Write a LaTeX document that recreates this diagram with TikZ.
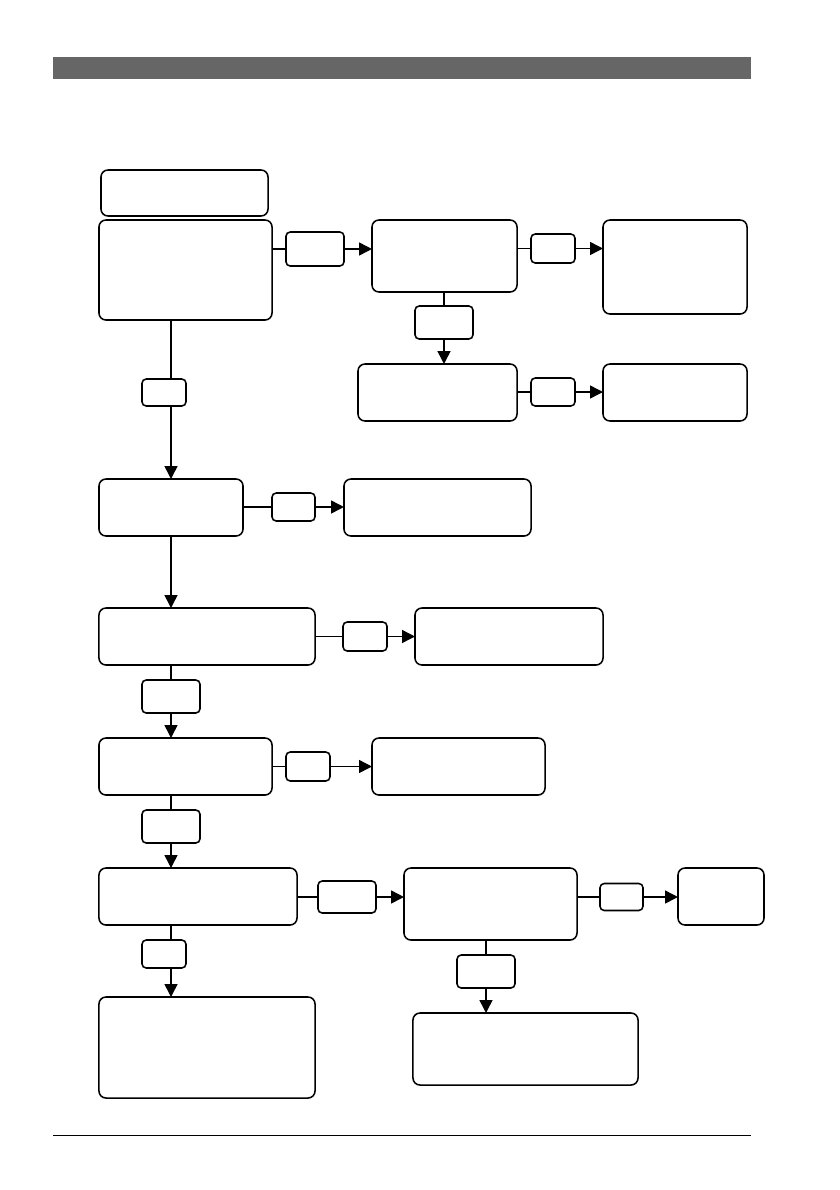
\documentclass[tikz,border=0pt]{standalone}
\usepackage{xcolor}
\usetikzlibrary{arrows.meta}
\definecolor{barGray}{HTML}{666666}

\begin{document}
\begin{tikzpicture}[
    x=0.025cm, y=-0.025cm,
    box/.style={draw=black, line width=1.1pt, rounded corners=5pt, inner sep=0pt,
                outer sep=0pt, fill=white, minimum width=#1},
    box/.default=3.6cm,
    tag/.style={draw=black, line width=1.1pt, rounded corners=3pt, inner sep=0pt,
                outer sep=0pt, fill=white, minimum width=#1, minimum height=0.75cm},
    tag/.default=1.1cm,
    link/.style={line width=1.1pt},
    arrow/.style={-{Triangle[length=3.2mm, width=3.2mm]}, line width=1.1pt}
]
    \useasboundingbox (0,0) rectangle (840,1190);

    % --- page header and footer ---
    \fill[barGray] (53,57) rectangle (751,79);
    \draw[line width=0.6pt] (53,1135) -- (751,1135);

    % --- top row ---
    \node[box=4.175cm, minimum height=1.15cm] (title) at (184.5,193) {};
    \node[box=4.325cm, minimum height=2.5cm] (start) at (185.5,270) {};
    \node[tag=1.45cm, minimum height=0.85cm] (tStart) at (315,249) {};
    \node[box=3.625cm, minimum height=1.8cm] (check) at (444.5,256) {};
    \node[tag, minimum height=0.725cm] (tCheck) at (553,248.5) {};
    \node[box=3.6cm, minimum height=2.35cm] (result) at (675,267) {};
    \node[tag=1.45cm, minimum height=0.825cm] (tCheckDown) at (444,322.5) {};
    \node[box=3.975cm, minimum height=1.425cm] (retry) at (437.5,392.5) {};
    \node[tag, minimum height=0.7cm] (tRetry) at (553,392) {};
    \node[box=3.6cm, minimum height=1.425cm] (retryOut) at (675,392.5) {};

    \draw[link] (start.east |- tStart) -- (tStart.west);
    \draw[arrow] (tStart.east) -- (check.west |- tStart);
    \draw[link] (check.east |- tCheck) -- (tCheck.west);
    \draw[arrow] (tCheck.east) -- (result.west |- tCheck);
    \draw[link] (tCheckDown |- check.south) -- (tCheckDown.north);
    \draw[arrow] (tCheckDown.south) -- (tCheckDown |- retry.north);
    \draw[link] (retry.east |- tRetry) -- (tRetry.west);
    \draw[arrow] (tRetry.east) -- (retryOut.west |- tRetry);

    % --- main column ---
    \node[tag, minimum height=0.675cm] (tStartDown) at (164,392.5) {};
    \node[box=3.6cm, minimum height=1.425cm] (stepF) at (171,507.5) {};
    \node[tag=1.075cm, minimum height=0.7cm] (tStepF) at (293.5,507) {};
    \node[box=4.675cm, minimum height=1.425cm] (outF) at (437.5,507.5) {};

    \draw[link] (stepF |- start.south) -- (stepF |- tStartDown.north);
    \draw[arrow] (stepF |- tStartDown.south) -- (stepF.north);
    \draw[link] (stepF.east |- tStepF) -- (tStepF.west);
    \draw[arrow] (tStepF.east) -- (outF.west |- tStepF);

    \node[box=5.4cm, minimum height=1.425cm] (stepH) at (207,636.5) {};
    \node[tag, minimum height=0.725cm] (tStepH) at (365,636.5) {};
    \node[box=4.7cm, minimum height=1.425cm] (outH) at (509,636.5) {};
    \node[tag=1.45cm, minimum height=0.825cm] (tStepHDown) at (171,696.5) {};

    \draw[arrow] (stepF.south) -- (stepF |- stepH.north);
    \draw[link] (stepH.east |- tStepH) -- (tStepH.west);
    \draw[arrow] (tStepH.east) -- (outH.west |- tStepH);

    \node[box=4.325cm, minimum height=1.425cm] (stepJ) at (185.5,766.5) {};
    \node[tag, minimum height=0.725cm] (tStepJ) at (308,766.5) {};
    \node[box=4.325cm, minimum height=1.425cm] (outJ) at (458.5,766.5) {};
    \node[tag=1.45cm, minimum height=0.825cm] (tStepJDown) at (171,826.5) {};

    \draw[link] (tStepHDown |- stepH.south) -- (tStepHDown.north);
    \draw[arrow] (tStepHDown.south) -- (tStepHDown |- stepJ.north);
    \draw[link] (stepJ.east |- tStepJ) -- (tStepJ.west);
    \draw[arrow] (tStepJ.east) -- (outJ.west |- tStepJ);

    % --- bottom rows ---
    \node[box=4.95cm, minimum height=1.425cm] (stepL) at (198,896.5) {};
    \node[tag=1.45cm, minimum height=0.8cm] (tStepL) at (347,897) {};
    \node[box=4.325cm, minimum height=1.8cm] (branch) at (490.5,904) {};
    \node[tag=1.075cm, minimum height=0.675cm] (tBranch) at (621.5,897) {};
    \node[box=2.15cm, minimum height=1.425cm] (branchOut) at (721,896.5) {};
    \node[tag, minimum height=0.7cm] (tStepLDown) at (164,954) {};
    \node[box=5.4cm, minimum height=2.525cm] (finish) at (207,1047.5) {};
    \node[tag=1.45cm, minimum height=0.825cm] (tBranchDown) at (486,971.5) {};
    \node[box=5.625cm, minimum height=1.8cm] (branchEnd) at (525.5,1049) {};

    \draw[link] (tStepJDown |- stepJ.south) -- (tStepJDown.north);
    \draw[arrow] (tStepJDown.south) -- (tStepJDown |- stepL.north);
    \draw[link] (stepL.east |- tStepL) -- (tStepL.west);
    \draw[arrow] (tStepL.east) -- (branch.west |- tStepL);
    \draw[link] (branch.east |- tBranch) -- (tBranch.west);
    \draw[arrow] (tBranch.east) -- (branchOut.west |- tBranch);
    \draw[link] (tStepJDown |- stepL.south) -- (tStepJDown |- tStepLDown.north);
    \draw[arrow] (tStepJDown |- tStepLDown.south) -- (tStepJDown |- finish.north);
    \draw[link] (tBranchDown |- branch.south) -- (tBranchDown.north);
    \draw[arrow] (tBranchDown.south) -- (tBranchDown |- branchEnd.north);
\end{tikzpicture}
\end{document}
